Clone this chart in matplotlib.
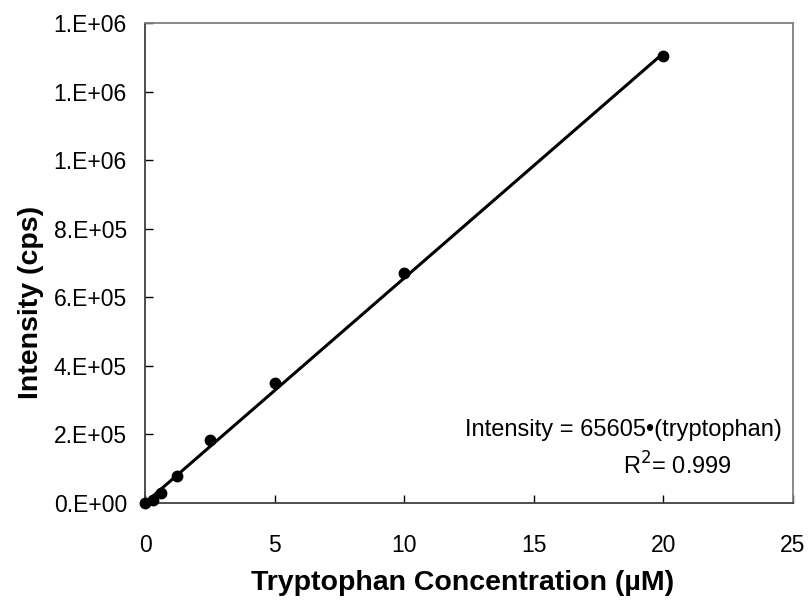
import matplotlib
matplotlib.use("Agg")
import matplotlib.pyplot as plt
import numpy as np
from matplotlib.ticker import FixedLocator, FixedFormatter

plt.rcParams['font.family'] = ['Liberation Sans', 'DejaVu Sans']

conc = [0, 0.3125, 0.625, 1.25, 2.5, 5, 10, 20]
intensity = [0, 9000, 29000, 79000, 184000, 350000, 671000, 1304000]
slope = 65605
fit_x = [0, 20]

y_ticks = [0, 2e5, 4e5, 6e5, 8e5, 1.0e6, 1.2e6, 1.4e6]
y_labels = ["0.E+00", "2.E+05", "4.E+05", "6.E+05", "8.E+05", "1.E+06", "1.E+06", "1.E+06"]
x_ticks = [0, 5, 10, 15, 20, 25]

W, H = 808, 601
fig = plt.figure(figsize=(W/100, H/100), dpi=100)
ax = fig.add_axes([145/W, (H-503)/H, (793-145)/W, (503-23)/H])

fx = np.array(fit_x, dtype=float)
ax.plot(fx, slope * fx, color='black', lw=2.2, solid_capstyle='butt', zorder=2)
ax.plot(conc, intensity, 'o', color='black', ms=7.5, zorder=3, clip_on=False)

ax.set_xlim(0, 25)
ax.set_ylim(0, 1.4e6)
ax.xaxis.set_major_locator(FixedLocator(x_ticks))
ax.yaxis.set_major_locator(FixedLocator(y_ticks))
ax.yaxis.set_major_formatter(FixedFormatter(y_labels))
ax.tick_params(direction='in', length=6, width=1, labelsize=16.5, colors='black')
ax.tick_params(axis='x', pad=22)
ax.tick_params(axis='y', pad=13)
for s in ['left', 'bottom']:
    ax.spines[s].set_color('#404040')
    ax.spines[s].set_linewidth(1.3)
for s in ['top', 'right']:
    ax.spines[s].set_color('#808080')
    ax.spines[s].set_linewidth(1.3)

fig.text(463/W, 1 - 583/H, 'Tryptophan Concentration (µM)', fontsize=20.5, fontweight='bold',
         ha='center', va='center')
fig.text(31/W, 1 - 302/H, 'Intensity (cps)', fontsize=20.5, fontweight='bold',
         ha='center', va='center', rotation=90)

fig.text(623/W, 1 - 430/H, 'Intensity = 65605•(tryptophan)', fontsize=17,
         ha='center', va='center')
fig.text(677/W, 1 - 466/H, 'R$^{2}$= 0.999', fontsize=17, ha='center', va='center')

fig.savefig('out.png', dpi=100)
